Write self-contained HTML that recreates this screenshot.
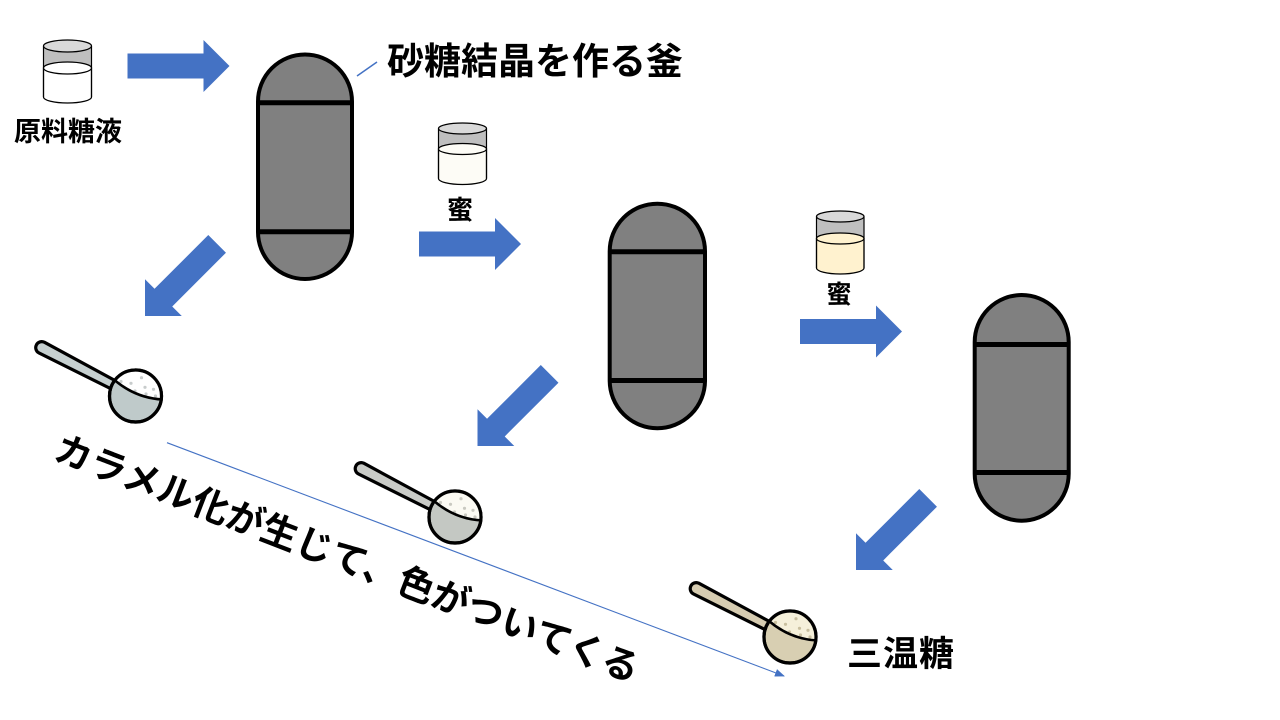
<!DOCTYPE html>
<html lang="ja">
<head>
<meta charset="utf-8">
<style>
  html,body{margin:0;padding:0;background:#fff;}
  body{width:1280px;height:720px;overflow:hidden;}
  svg{display:block;}
  text{font-family:"Liberation Sans","Noto Sans CJK JP",sans-serif;fill:#000;}
</style>
</head>
<body>
<svg width="1280" height="720" viewBox="0 0 1280 720" xmlns="http://www.w3.org/2000/svg">
  <defs>
    <path id="arr" d="M0,0 L-26,-26 L-26,-12.5 L-102,-12.5 L-102,12.5 L-26,12.5 L-26,26 Z" fill="#4472c4"/>
    <marker id="ah" markerWidth="10" markerHeight="8" refX="9" refY="4" orient="auto" markerUnits="userSpaceOnUse">
      <path d="M0,0 L10,4 L0,8 Z" fill="#4472c4"/>
    </marker>
  </defs>

  <rect width="1280" height="720" fill="#fff"/>

  <!-- Beaker 1 -->
  <g stroke="#000" stroke-width="1.2">
    <rect x="43.5" y="46" width="48" height="22" fill="#bfbfbf" stroke="none"/>
    <path d="M43.5,68 V97 A24 6 0 0 0 91.5,97 V68 Z" fill="#ffffff"/>
    <ellipse cx="67.5" cy="68" rx="24" ry="6" fill="#ffffff"/>
    <ellipse cx="67.5" cy="46" rx="24" ry="6" fill="#d9d9d9"/>
    <line x1="43.5" y1="46" x2="43.5" y2="97"/>
    <line x1="91.5" y1="46" x2="91.5" y2="97"/>
  </g>
  <!-- Beaker 2 -->
  <g stroke="#000" stroke-width="1.2">
    <rect x="438.5" y="128.5" width="48" height="20.5" fill="#bfbfbf" stroke="none"/>
    <path d="M438.5,149 V178.5 A24 6 0 0 0 486.5,178.5 V149 Z" fill="#fdfcf6"/>
    <ellipse cx="462.5" cy="149" rx="24" ry="5.5" fill="#fdfcf6"/>
    <ellipse cx="462.5" cy="128.5" rx="24" ry="5.5" fill="#d9d9d9"/>
    <line x1="438.5" y1="128.5" x2="438.5" y2="178.5"/>
    <line x1="486.5" y1="128.5" x2="486.5" y2="178.5"/>
  </g>
  <!-- Beaker 3 -->
  <g stroke="#000" stroke-width="1.2">
    <rect x="816.5" y="216.5" width="47.5" height="22" fill="#bfbfbf" stroke="none"/>
    <path d="M816.5,238.5 V268 A23.75 6 0 0 0 864,268 V238.5 Z" fill="#fff2cf"/>
    <ellipse cx="840.25" cy="238.5" rx="23.75" ry="5.5" fill="#fff2cf"/>
    <ellipse cx="840.25" cy="216.5" rx="23.75" ry="5.5" fill="#d9d9d9"/>
    <line x1="816.5" y1="216.5" x2="816.5" y2="268"/>
    <line x1="864" y1="216.5" x2="864" y2="268"/>
  </g>

  <!-- Labels -->
  <text x="14" y="141" font-size="27" font-weight="bold">原料糖液</text>
  <text x="460" y="219" font-size="26" font-weight="bold" text-anchor="middle">蜜</text>
  <text x="839" y="303" font-size="25" font-weight="bold" text-anchor="middle">蜜</text>
  <text x="387" y="74" font-size="37" font-weight="bold">砂糖結晶を作る釜</text>
  <text x="847" y="666" font-size="35" font-weight="bold" letter-spacing="1">三温糖</text>

  <!-- leader line for title -->
  <line x1="357" y1="76" x2="377" y2="62" stroke="#4472c4" stroke-width="1.5"/>

  <!-- Vessels -->
  <g fill="#808080" stroke="#000" stroke-width="4">
    <rect x="258" y="54.5" width="94" height="224.5" rx="47" ry="47"/>
    <rect x="609.7" y="203.7" width="95.3" height="224.5" rx="47.6" ry="47.6"/>
    <rect x="974.7" y="295" width="94" height="225.7" rx="47" ry="47"/>
  </g>
  <g stroke="#000" stroke-width="5">
    <line x1="258" y1="102.7" x2="352" y2="102.7"/>
    <line x1="258" y1="231.7" x2="352" y2="231.7"/>
    <line x1="609.7" y1="251.7" x2="705" y2="251.7"/>
    <line x1="609.7" y1="380.5" x2="705" y2="380.5"/>
    <line x1="974.7" y1="344.5" x2="1068.7" y2="344.5"/>
    <line x1="974.7" y1="472.5" x2="1068.7" y2="472.5"/>
  </g>

  <!-- Block arrows -->
  <use href="#arr" transform="translate(229.5,66)"/>
  <use href="#arr" transform="translate(521,244)"/>
  <use href="#arr" transform="translate(902,331.5)"/>
  <use href="#arr" transform="translate(145,316) rotate(135)"/>
  <use href="#arr" transform="translate(477.5,446) rotate(135)"/>
  <use href="#arr" transform="translate(856,570) rotate(135)"/>

  <!-- thin arrow -->
  <line x1="167" y1="442.7" x2="784" y2="676" stroke="#4472c4" stroke-width="1.1" marker-end="url(#ah)"/>

  <!-- Scoop 1 -->
  <g transform="translate(135.5,396)" stroke="#000" stroke-linejoin="round">
    <path d="M-91.2,-53.8 L-15.9,-13 L-20.1,-5 L-96.8,-43.2 A6 6 0 0 1 -91.2,-53.8 Z" fill="#c6d0d0" stroke-width="3.2"/>
    <circle cx="0" cy="0" r="26" fill="#bfcaca" stroke-width="3.2"/>
    <path d="M-21,-16 Q0,2 27,3.5 A26.6 26.6 0 0 0 -21,-16 Z" fill="#ffffff" stroke="none"/>
    <g fill="#c8cccc" stroke="none">
      <circle cx="-14.5" cy="-14.5" r="1.6"/><circle cx="-4.5" cy="-12.7" r="1.6"/>
      <circle cx="6" cy="-18.3" r="1.6"/><circle cx="-0.5" cy="-5" r="1.6"/>
      <circle cx="9.5" cy="-8.7" r="1.6"/><circle cx="10.5" cy="-2" r="1.6"/>
      <circle cx="18" cy="-6.7" r="1.6"/><circle cx="20" cy="0" r="1.6"/>
    </g>
    <circle cx="0" cy="0" r="26" fill="none" stroke-width="3.2"/>
    <path d="M-21,-16 Q0,2 27,3.5" fill="none" stroke-width="2.6"/>
  </g>

  <!-- Scoop 2 -->
  <g transform="translate(455,517)" stroke="#000" stroke-linejoin="round">
    <path d="M-91.2,-53.8 L-15.9,-13 L-20.1,-5 L-96.8,-43.2 A6 6 0 0 1 -91.2,-53.8 Z" fill="#c9cbc7" stroke-width="3.2"/>
    <circle cx="0" cy="0" r="26" fill="#c4c8c3" stroke-width="3.2"/>
    <path d="M-21,-16 Q0,2 27,3.5 A26.6 26.6 0 0 0 -21,-16 Z" fill="#fbfaf3" stroke="none"/>
    <g fill="#c9c9c1" stroke="none">
      <circle cx="-14.5" cy="-14.5" r="1.6"/><circle cx="-4.5" cy="-12.7" r="1.6"/>
      <circle cx="6" cy="-18.3" r="1.6"/><circle cx="-0.5" cy="-5" r="1.6"/>
      <circle cx="9.5" cy="-8.7" r="1.6"/><circle cx="10.5" cy="-2" r="1.6"/>
      <circle cx="18" cy="-6.7" r="1.6"/><circle cx="20" cy="0" r="1.6"/>
    </g>
    <circle cx="0" cy="0" r="26" fill="none" stroke-width="3.2"/>
    <path d="M-21,-16 Q0,2 27,3.5" fill="none" stroke-width="2.6"/>
  </g>

  <!-- Scoop 3 -->
  <g transform="translate(790,637)" stroke="#000" stroke-linejoin="round">
    <path d="M-91.2,-53.8 L-15.9,-13 L-20.1,-5 L-96.8,-43.2 A6 6 0 0 1 -91.2,-53.8 Z" fill="#d6ccb1" stroke-width="3.2"/>
    <circle cx="0" cy="0" r="26" fill="#d8cfb2" stroke-width="3.2"/>
    <path d="M-21,-16 Q0,2 27,3.5 A26.6 26.6 0 0 0 -21,-16 Z" fill="#f5f0da" stroke="none"/>
    <g fill="#c8bf9f" stroke="none">
      <circle cx="-14.5" cy="-14.5" r="1.6"/><circle cx="-4.5" cy="-12.7" r="1.6"/>
      <circle cx="6" cy="-18.3" r="1.6"/><circle cx="-0.5" cy="-5" r="1.6"/>
      <circle cx="9.5" cy="-8.7" r="1.6"/><circle cx="10.5" cy="-2" r="1.6"/>
      <circle cx="18" cy="-6.7" r="1.6"/><circle cx="20" cy="0" r="1.6"/>
    </g>
    <circle cx="0" cy="0" r="26" fill="none" stroke-width="3.2"/>
    <path d="M-21,-16 Q0,2 27,3.5" fill="none" stroke-width="2.6"/>
  </g>

  <!-- Rotated caption -->
  <text x="347" y="559" font-size="37" font-weight="bold" text-anchor="middle" dominant-baseline="central" transform="rotate(21.1 347 559)">カラメル化が生じて、色がついてくる</text>
</svg>
</body>
</html>
